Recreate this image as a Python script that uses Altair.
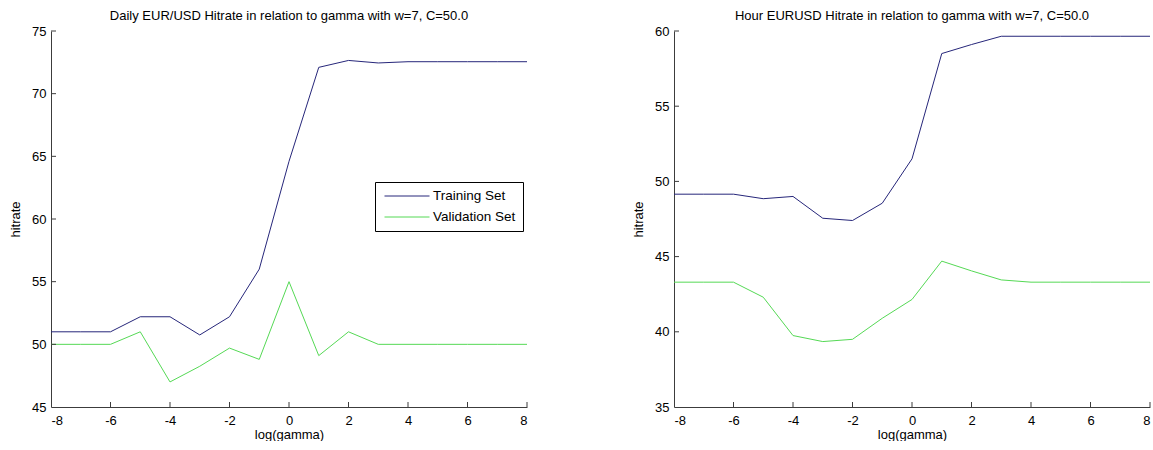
import altair as alt
import pandas as pd

# log(gamma) grid shared by both experiments
gamma = [-8, -7, -6, -5, -4, -3, -2, -1, 0, 1, 2, 3, 4, 5, 6, 7, 8]

# Daily EUR/USD hit rates
daily_training = [51.0, 51.0, 51.0, 52.2, 52.2, 50.75, 52.2, 56.0, 64.6, 72.1,
                  72.65, 72.45, 72.55, 72.55, 72.55, 72.55, 72.55]
daily_validation = [50.0, 50.0, 50.0, 51.0, 47.0, 48.25, 49.7, 48.8, 55.0, 49.1,
                    51.0, 50.0, 50.0, 50.0, 50.0, 50.0, 50.0]

# Hourly EUR/USD hit rates
hour_training = [49.15, 49.15, 49.15, 48.85, 49.0, 47.55, 47.4, 48.55, 51.5, 58.5,
                 59.1, 59.65, 59.65, 59.65, 59.65, 59.65, 59.65]
hour_validation = [43.3, 43.3, 43.3, 42.3, 39.75, 39.35, 39.5, 40.9, 42.15, 44.7,
                   44.05, 43.45, 43.3, 43.3, 43.3, 43.3, 43.3]

series_names = ["Training Set", "Validation Set"]
series_colors = ["#26267a", "#55d955"]

x_ticks = [-8, -6, -4, -2, 0, 2, 4, 6, 8]
daily_y_ticks = [45, 50, 55, 60, 65, 70, 75]
hour_y_ticks = [35, 40, 45, 50, 55, 60]

PLOT_W = 476
PLOT_H = 376
FONT = "Liberation Sans"
AXIS_COLOR = "#3c3c3c"
TICK_LEN = 5
# plain hyphen-minus for negative tick labels
PLAIN_LABEL = "'' + datum.value"


def panel(title, train, valid, y_ticks, leg_x, leg_y):
    df = pd.DataFrame({
        "gamma": gamma + gamma,
        "hitrate": train + valid,
        "series": [series_names[0]] * len(gamma) + [series_names[1]] * len(gamma),
    })
    x_scale = alt.Scale(domain=[x_ticks[0], x_ticks[-1]], nice=False, zero=False)
    y_scale = alt.Scale(domain=[y_ticks[0], y_ticks[-1]], nice=False, zero=False)
    x_axis = alt.Axis(values=x_ticks, title="log(gamma)", tickSize=0,
                      labelPadding=7, titlePadding=1, grid=False,
                      labelExpr=PLAIN_LABEL)
    y_axis = alt.Axis(values=y_ticks, title="hitrate", tickSize=0,
                      labelPadding=5, titlePadding=9, grid=False,
                      labelExpr=PLAIN_LABEL)

    lines = alt.Chart(df).mark_line(strokeWidth=1).encode(
        x=alt.X("gamma:Q", scale=x_scale, axis=x_axis),
        y=alt.Y("hitrate:Q", scale=y_scale, axis=y_axis),
        color=alt.Color("series:N",
                        scale=alt.Scale(domain=series_names, range=series_colors),
                        legend=alt.Legend(orient="none", legendX=leg_x, legendY=leg_y,
                                          title=None, symbolType="stroke",
                                          symbolSize=2025, symbolStrokeWidth=1,
                                          symbolOffset=2,
                                          clipHeight=14, rowPadding=7, padding=7,
                                          labelOffset=3, labelFontSize=13.5,
                                          labelFont=FONT, labelColor="black",
                                          strokeColor="black", fillColor="white",
                                          labelLimit=300)),
        order=alt.Order("gamma:Q"),
    )

    # inward-pointing ticks along the bottom axis
    x_tick_marks = alt.Chart(pd.DataFrame({"gamma": x_ticks[1:]})).mark_rule(
        color=AXIS_COLOR, strokeWidth=1
    ).encode(
        x=alt.X("gamma:Q", scale=x_scale, axis=x_axis),
        y=alt.value(PLOT_H),
        y2=alt.value(PLOT_H - TICK_LEN),
    )
    # inward-pointing ticks along the left axis
    y_tick_marks = alt.Chart(pd.DataFrame({"hitrate": y_ticks[1:]})).mark_rule(
        color=AXIS_COLOR, strokeWidth=1
    ).encode(
        y=alt.Y("hitrate:Q", scale=y_scale, axis=y_axis),
        x=alt.value(0),
        x2=alt.value(TICK_LEN),
    )

    return alt.layer(lines, x_tick_marks, y_tick_marks).properties(
        width=PLOT_W, height=PLOT_H,
        title=alt.Title(title, fontSize=13, fontWeight="normal", font=FONT,
                        color="black", offset=2),
    )


left = panel("Daily EUR/USD Hitrate in relation to gamma with w=7, C=50.0",
             daily_training, daily_validation, daily_y_ticks, 324, 151)
right = panel("Hour EURUSD Hitrate in relation to gamma with w=7, C=50.0",
              hour_training, hour_validation, hour_y_ticks, 326, 43)

chart = alt.hconcat(left, right, spacing=147, bounds="flush").properties(
    padding={"left": 9, "top": 10, "right": 0, "bottom": 0},
    background="white",
).configure_view(
    stroke=None
).configure_axis(
    domainColor=AXIS_COLOR, domainWidth=1,
    labelFont=FONT, labelFontSize=13, labelColor="black",
    titleFont=FONT, titleFontSize=13, titleFontWeight="normal", titleColor="black",
)

chart.save("out.html", embed_options={"renderer": "svg", "actions": False})
